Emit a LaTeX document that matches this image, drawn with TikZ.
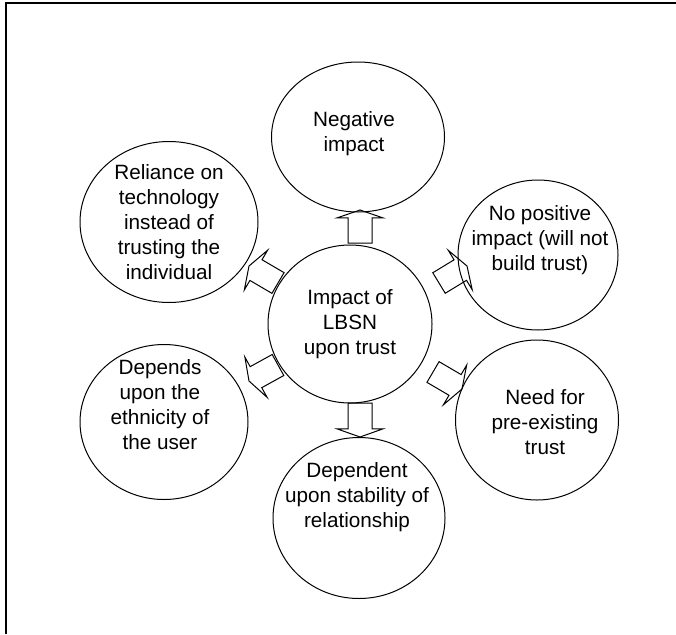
\documentclass[tikz,border=0pt]{standalone}
\usepackage{fontspec}
\setmainfont{Liberation Sans}
\usetikzlibrary{calc,shapes.geometric}
\tikzset{
    bubble/.style = {draw, ellipse, line width=1pt, inner sep=0pt},
    words/.style = {inner sep=0pt, align=center, font=\fontsize{20.7}{25}\selectfont},
    hollow/.style = {draw, line width=1pt, line join=miter}}
% block arrow from tail to tip
\newcommand\blockarrow[2]{%
    \coordinate (ahead) at ($(#1)!0.76!(#2)$);
    \draw[hollow]
        ($(#1)!12pt!90:(#2)$) -- ($(ahead)!12pt!90:(#2)$) -- ($(ahead)!23pt!90:(#2)$)
        -- (#2) -- ($(ahead)!23pt!-90:(#2)$) -- ($(ahead)!12pt!-90:(#2)$)
        -- ($(#1)!12pt!-90:(#2)$) -- cycle;}

\begin{document}
\begin{tikzpicture}[x=1pt, y=-1pt]
    \useasboundingbox (0,0) rectangle (676,634);
    \draw[line width=2.3pt] (6,634) -- (6,3) -- (676,3);

    \node[bubble, minimum width=164pt, minimum height=158pt] (lbsn) at (350,324) {};
    \node[bubble, minimum width=173pt, minimum height=150pt] (neg) at (358,137) {};
    \node[bubble, minimum width=178pt, minimum height=161pt] (rely) at (169,222) {};
    \node[bubble, minimum width=160pt, minimum height=150pt] (nopos) at (538,255) {};
    \node[bubble, minimum width=168pt, minimum height=155pt] (ethnic) at (164,422) {};
    \node[bubble, minimum width=163pt, minimum height=160pt] (need) at (537,420) {};
    \node[bubble, minimum width=172pt, minimum height=161pt] (stable) at (359,518) {};

    \node[words] (lbsn-text) at (350,324) {Impact of\\LBSN\\upon trust};
    \node[words] (neg-text) at (354,134) {Negative\\impact};
    \node[words] (rely-text) at (169,222) {Reliance on\\technology\\instead of\\trusting the\\individual};
    \node[words] (nopos-text) at (540,240) {No positive\\impact (will not\\build trust)};
    \node[words] (ethnic-text) at (160,405) {Depends\\upon the\\ethnicity of\\the user};
    \node[words] (need-text) at (545,422) {Need for\\pre-existing\\trust};
    \node[words] (stable-text) at (357,497) {Dependent\\upon stability of\\relationship};

    \coordinate (top-tail) at (360,243);   \coordinate (top-tip) at (360,210);
    \coordinate (bot-tail) at (360,403);   \coordinate (bot-tip) at (360,437);
    \coordinate (ur-tail) at (439,283);    \coordinate (ur-tip) at (467,266);
    \coordinate (lr-tail) at (433,372);    \coordinate (lr-tip) at (462,389);
    \coordinate (ul-tail) at (278,283);    \coordinate (ul-tip) at (249,266);
    \coordinate (ll-tail) at (278,365);    \coordinate (ll-tip) at (249,381);

    \blockarrow{top-tail}{top-tip}
    \blockarrow{bot-tail}{bot-tip}
    \blockarrow{ur-tail}{ur-tip}
    \blockarrow{lr-tail}{lr-tip}
    \blockarrow{ul-tail}{ul-tip}
    \blockarrow{ll-tail}{ll-tip}
\end{tikzpicture}
\end{document}
